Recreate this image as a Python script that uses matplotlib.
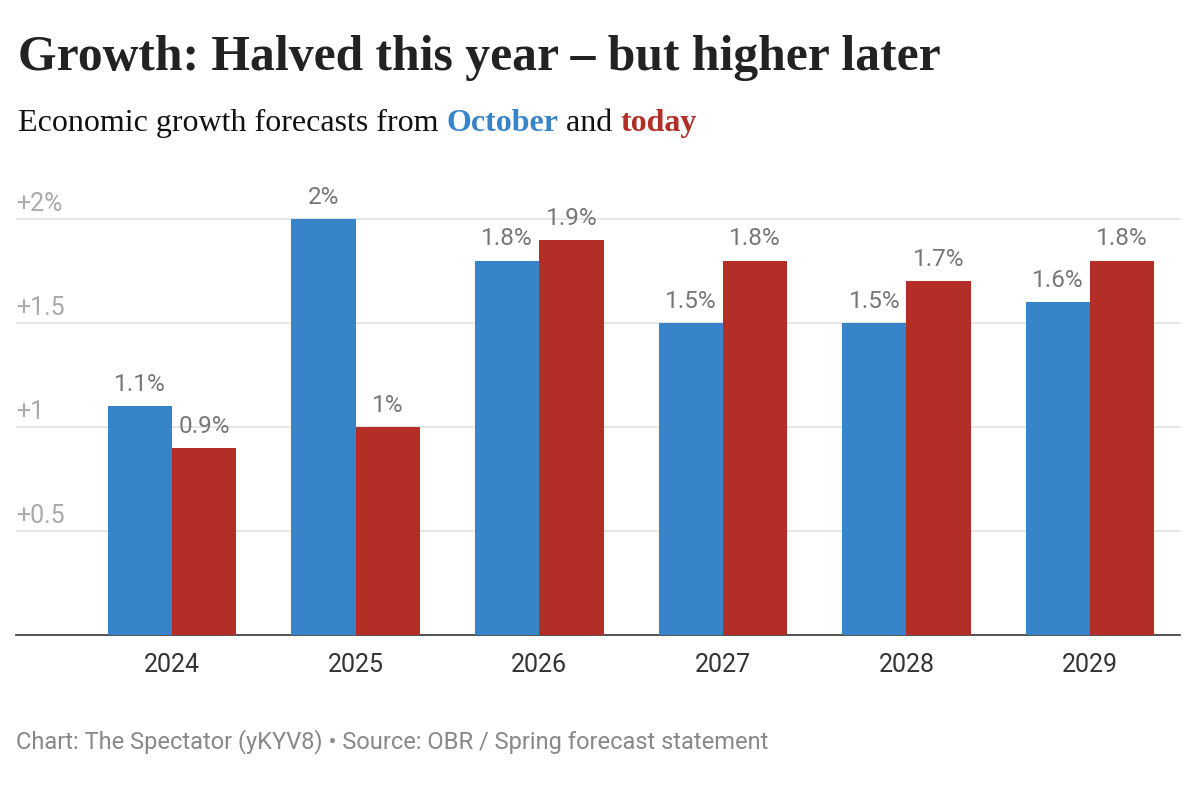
import numpy as np
import matplotlib
matplotlib.use("Agg")
from matplotlib import pyplot as plt

years = ["2024", "2025", "2026", "2027", "2028", "2029"]
october = [1.1, 2.0, 1.8, 1.5, 1.5, 1.6]
today = [0.9, 1.0, 1.9, 1.8, 1.7, 1.8]
yticks = [0.5, 1.0, 1.5, 2.0]
ytick_labels = ["+0.5", "+1", "+1.5", "+2%"]

BLUE = "#3785c8"
RED = "#b22e27"
GREY = "#888888"

plt.rcParams["font.family"] = ["Roboto", "DejaVu Sans"]

fig = plt.figure(figsize=(11.96, 7.92), dpi=100)
ax = fig.add_axes([0.0134, 0.198, 0.9732, 0.578])

x = np.arange(len(years))
w = 0.35
b1 = ax.bar(x - w / 2, october, w, color=BLUE, zorder=3)
b2 = ax.bar(x + w / 2, today, w, color=RED, zorder=3)

def label(v):
    s = f"{v:.1f}".rstrip("0").rstrip(".")
    return s + "%"

for bars, vals in ((b1, october), (b2, today)):
    for bar, v in zip(bars, vals):
        ax.annotate(label(v), (bar.get_x() + bar.get_width() / 2, v),
                    xytext=(0, 11), textcoords="offset points",
                    ha="center", va="baseline", fontsize=17.5, color="#777777")

ax.set_xlim(-0.85, 5.49)
ax.set_ylim(0, 2.2)
ax.set_xticks(x)
ax.set_xticklabels(years, fontsize=18, color="#333333")
ax.tick_params(axis="x", length=0, pad=13)
ax.set_yticks([])
for t, lab in zip(yticks, ytick_labels):
    ax.axhline(t, color="#e2e2e2", lw=1.2, zorder=1)
    ax.text(0.0, t + 0.015, lab, transform=ax.get_yaxis_transform(),
            ha="left", va="bottom", fontsize=18, color="#aaaaaa")
for s in ("top", "right", "left"):
    ax.spines[s].set_visible(False)
ax.spines["bottom"].set_color("#333333")
ax.spines["bottom"].set_linewidth(1.2)

fig.text(0.015, 0.912, "Growth: Halved this year \u2013 but higher later",
         family=["Liberation Serif", "DejaVu Serif"], fontweight="bold",
         fontsize=35.7, color="#222222", va="baseline")

# subtitle with coloured words
parts = [("Economic growth forecasts from ", "#111111", "normal"),
         ("October", BLUE, "bold"),
         (" and ", "#111111", "normal"),
         ("today", RED, "bold")]
fig.canvas.draw()
renderer = fig.canvas.get_renderer()
xpos = 0.015
for txt, col, wt in parts:
    t = fig.text(xpos, 0.834, txt, family=["Liberation Serif", "DejaVu Serif"],
                 fontsize=23, color=col, fontweight=wt, va="baseline")
    bb = t.get_window_extent(renderer=renderer)
    xpos += bb.width / fig.bbox.width

fig.text(0.0134, 0.055, "Chart: The Spectator (yKYV8) \u2022 Source: OBR / Spring forecast statement",
         fontsize=17, color=GREY, va="baseline")

fig.savefig("out.png", dpi=100, facecolor="white")
